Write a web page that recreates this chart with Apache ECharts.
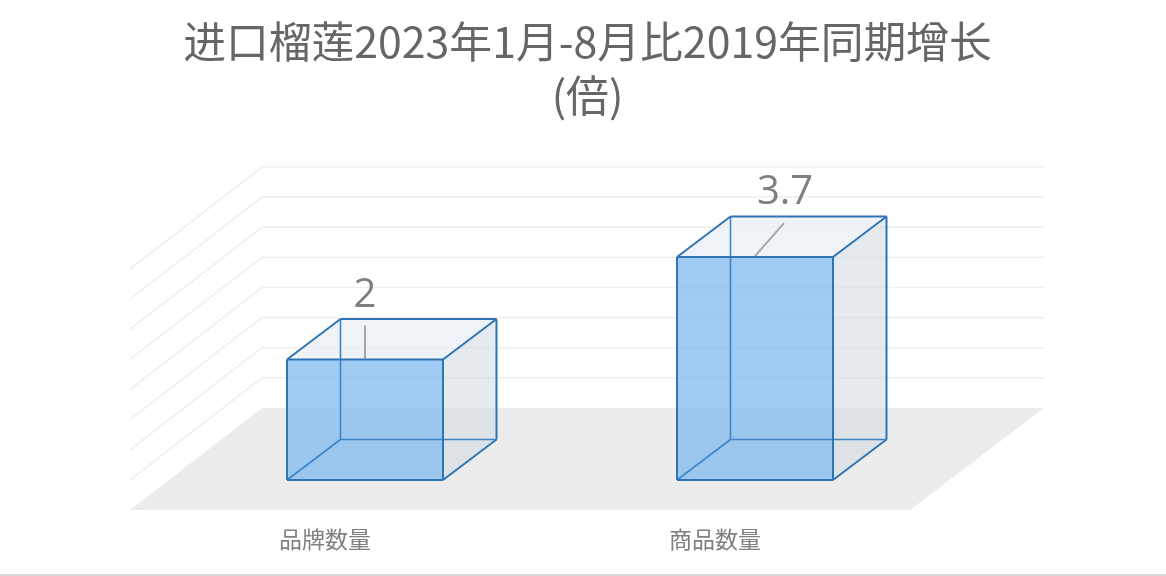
<!DOCTYPE html>
<html><head><meta charset="utf-8">
<style>html,body{margin:0;padding:0;background:#fff}#c{width:1166px;height:576px}</style>
<script src="https://cdn.jsdelivr.net/npm/echarts@6/dist/echarts.min.js"></script>
</head><body><div id="c"></div>
<script>
const categories = ['品牌数量', '商品数量'];
const values = [2, 3.7];
const valueLabels = ['2', '3.7'];
const yTicks = [0.5, 1, 1.5, 2, 2.5, 3, 3.5, 4];

const FONT = '"Noto Sans CJK JP","Noto Sans CJK SC",sans-serif';
const DX = 132, DY = -102, WALL = 782;      // floor depth and wall width
const BDX = 53.5, BDY = -40.5;              // bar depth
const SHIFT_X = 40, SHIFT_Y = -30;          // bar position on the floor
const EDGE = '#2f74b5', INNER = '#3d86c8';

function poly(points, fill) {
  return { type: 'polygon', shape: { points }, style: { fill, stroke: 'none' }, silent: true };
}
function line(a, b, stroke, lineWidth) {
  return { type: 'line', shape: { x1: a[0], y1: a[1], x2: b[0], y2: b[1] }, style: { stroke, lineWidth }, silent: true };
}

function renderGrid(params, api) {
  const cs = params.coordSys;
  const y = api.coord([0, api.value(0)])[1];
  const x0 = cs.x;
  return {
    type: 'polyline',
    shape: { points: [[x0, y], [x0 + DX, y + DY], [x0 + DX + WALL, y + DY]] },
    style: { stroke: '#f0f0f0', lineWidth: 1.6, fill: 'none' },
    silent: true
  };
}

function renderFloor(params, api) {
  const cs = params.coordSys;
  const y = api.coord([0, api.value(0)])[1];
  const x0 = cs.x, x1 = cs.x + cs.width;
  return poly([[x0, y], [x1, y], [x0 + DX + WALL, y + DY], [x0 + DX, y + DY]], '#ececec');
}

function renderBar(params, api) {
  const idx = api.value(0), val = api.value(1);
  const top = api.coord([idx, val]);
  const base = api.coord([idx, 0]);
  const w = api.size([1, 0])[0] * 0.4;
  const l = top[0] + SHIFT_X - w / 2, r = l + w;
  const t = top[1] + SHIFT_Y, b = base[1] + SHIFT_Y;
  const B = p => [p[0] + BDX, p[1] + BDY];
  const lt = [l, t], rt = [r, t], lb = [l, b], rb = [r, b];
  const anchorTop = [l + w / 2, t - 1];
  const anchorEnd = idx === 0 ? [l + w / 2, t - 34] : [l + w / 2 + 29, t - 34];
  return {
    type: 'group',
    children: [
      poly([rt, B(rt), B(rb), rb], 'rgba(212,220,228,0.6)'),
      poly([lt, rt, B(rt), B(lt)], 'rgba(232,238,244,0.7)'),
      line(anchorTop, anchorEnd, '#a6a6a6', 2),
      poly([lt, rt, rb, lb], 'rgba(128,186,239,0.75)'),
      line(B(lt), B(lb), INNER, 1.6),
      line(B(lb), B(rb), INNER, 1.6),
      line(lb, B(lb), INNER, 1.6),
      line(lt, rt, EDGE, 2),
      line(rt, rb, EDGE, 2),
      line(rb, lb, EDGE, 2),
      line(lb, lt, EDGE, 2),
      line(lt, B(lt), EDGE, 2),
      line(B(lt), B(rt), EDGE, 2),
      line(rt, B(rt), EDGE, 2),
      line(B(rt), B(rb), EDGE, 2),
      line(rb, B(rb), EDGE, 2),
      {
        type: 'text',
        silent: true,
        style: {
          x: anchorEnd[0] + (idx === 0 ? 0 : 1), y: anchorEnd[1] - 10,
          text: valueLabels[idx],
          fill: '#808080',
          font: '40px "Open Sans", sans-serif',
          align: 'center', verticalAlign: 'bottom'
        }
      }
    ]
  };
}

const chart = echarts.init(document.getElementById('c'), null, { renderer: 'canvas' });
chart.setOption({
  animation: false,
  backgroundColor: '#ffffff',
  title: {
    text: '进口榴莲2023年1月-8月比2019年同期增长\n(倍)',
    left: 582.5, top: 10, textAlign: 'center',
    textStyle: { fontFamily: FONT, fontSize: 42.8, fontWeight: 'normal', color: '#666666', lineHeight: 54 }
  },
  grid: { left: 130, top: 269, width: 780, height: 241, containLabel: false },
  xAxis: {
    type: 'category', data: categories,
    axisLine: { show: false }, axisTick: { show: false }, splitLine: { show: false },
    axisLabel: { fontFamily: FONT, fontSize: 23, color: '#808080', margin: 18 }
  },
  yAxis: { type: 'value', min: 0, max: 4, interval: 0.5, show: false, splitLine: { show: false } },
  series: [
    { type: 'custom', name: 'grid', renderItem: renderGrid, data: yTicks.map(v => [v]), encode: { y: 0 }, clip: false, silent: true, z: 1 },
    { type: 'custom', name: 'floor', renderItem: renderFloor, data: [[0]], encode: { y: 0 }, clip: false, silent: true, z: 2 },
    { type: 'custom', name: 'bars', renderItem: renderBar, data: values.map((v, i) => [i, v]), encode: { x: 0, y: 1 }, clip: false, silent: true, z: 3 }
  ],
  graphic: [{ type: 'rect', shape: { x: 0, y: 574, width: 1166, height: 2 }, style: { fill: '#d9d9d9' }, silent: true }]
});
</script></body></html>
